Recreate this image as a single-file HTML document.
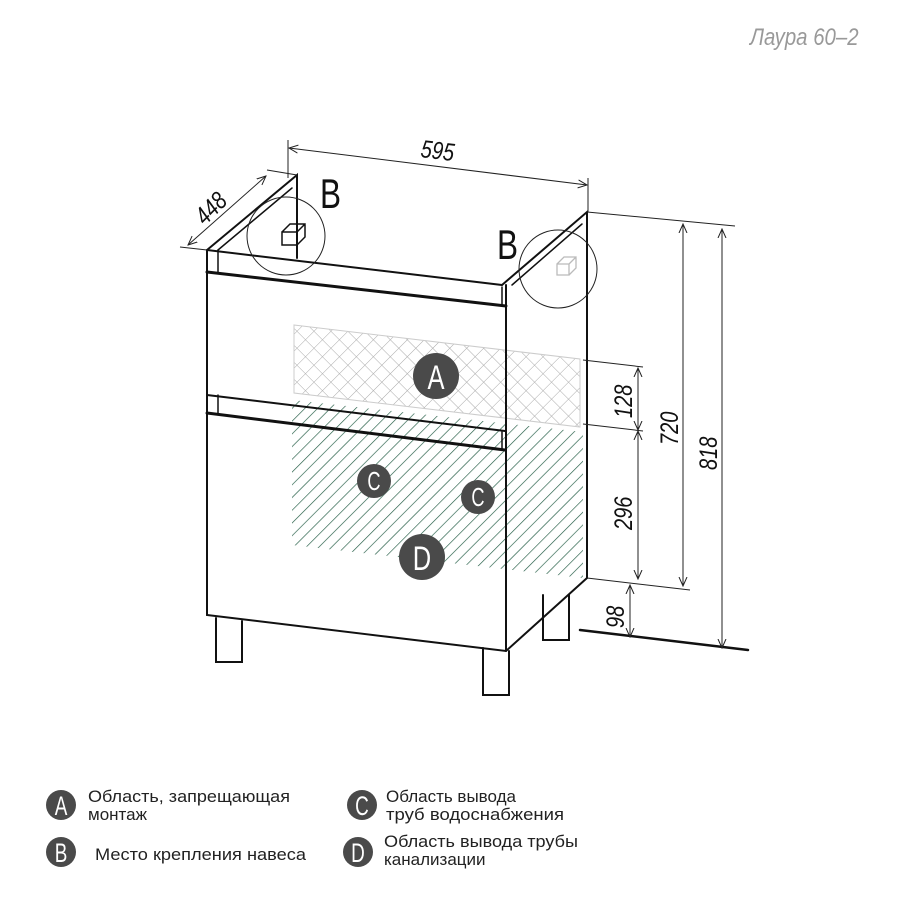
<!DOCTYPE html>
<html><head><meta charset="utf-8"><style>
body{margin:0;background:#fff;width:917px;height:917px;overflow:hidden}
svg{display:block}
.t{font-family:"Liberation Sans","DejaVu Sans",sans-serif}
</style></head><body>
<svg width="917" height="917" viewBox="0 0 917 917" xmlns="http://www.w3.org/2000/svg">
<defs>
<pattern id="cross" width="12" height="12" patternUnits="userSpaceOnUse" patternTransform="rotate(45)">
<path d="M0 0H12M0 0V12" stroke="#aaa" stroke-width="1" fill="none"/>
</pattern>
<pattern id="hatch" width="9" height="9" patternUnits="userSpaceOnUse" patternTransform="rotate(45)">
<path d="M0 0V9" stroke="#1f5a42" stroke-width="1.3"/>
</pattern>
<marker id="ar" markerWidth="10" markerHeight="10" refX="9" refY="5" orient="auto-start-reverse" markerUnits="userSpaceOnUse">
<path d="M0 1L9 5L0 9" fill="none" stroke="#222" stroke-width="1"/>
</marker>
</defs>
<text transform="translate(750,45) scale(0.85,1)" class="t" font-size="24" font-style="italic" fill="#999">Лаура 60–2</text>

<polygon points="294,325 580,359 580,427 294,393" fill="url(#cross)" stroke="#ccc"/>
<polygon points="292,400 583,432 583,578 292,545" fill="url(#hatch)"/>

<g stroke="#111" fill="none" stroke-linecap="round">
<path d="M207,250 L297,175 L297,258" stroke-width="2"/>
<path d="M218,250 L292,188" stroke-width="1.5"/>
<path d="M502,285 L587,212 L587,578" stroke-width="2"/>
<path d="M512,285 L582,224" stroke-width="1.5"/>
<path d="M207,250 L502,285" stroke-width="2"/>
<path d="M207,250 L207,615 L506,651 L587,578" stroke-width="2"/>
<path d="M506,285 L506,651" stroke-width="2"/>
<path d="M207,272 L506,306" stroke-width="3"/>
<path d="M218,250 V272 M502,287 V306" stroke-width="1.5"/>
<path d="M207,395 L505,431" stroke-width="2"/>
<path d="M207,413 L505,450" stroke-width="3"/>
<path d="M218,395 V413 M502,432 V450" stroke-width="1.5"/>
<path d="M216,618 V662 H242 V621" stroke-width="2"/>
<path d="M483,648 V695 H509 V651" stroke-width="2"/>
<path d="M543,595 V640 H569 V595" stroke-width="2"/>
<path d="M580,630 L748,650" stroke-width="2.5"/>
<path d="M282,232 h15 v13 h-15 z M282,232 l8,-8 h15 v13 l-8,8 M297,232 l8,-8" stroke-width="1.5"/>
<path d="M557,264 h12 v11 h-12 z M557,264 l7,-7 h12 v11 l-7,7 M569,264 l7,-7" stroke="#bbb" stroke-width="1.3"/>
</g>
<circle cx="286" cy="236" r="39" fill="none" stroke="#222" stroke-width="1"/>
<circle cx="558" cy="269" r="39" fill="none" stroke="#222" stroke-width="1"/>
<text transform="translate(320,208) scale(0.75,1)" class="t" font-size="42" fill="#111">B</text>
<text transform="translate(497,259) scale(0.75,1)" class="t" font-size="42" fill="#111">B</text>

<g stroke="#222" stroke-width="1" fill="none">
<path d="M288,140 V178 M588,178 V212"/>
<path d="M289,148 L587,185" marker-start="url(#ar)" marker-end="url(#ar)"/>
<path d="M180,247 L207,250 M267,170 L297,175"/>
<path d="M188,245 L266,176" marker-start="url(#ar)" marker-end="url(#ar)"/>
<path d="M587,212 L735,226 M583,360 L643,367 M583,424 L643,431 M587,578 L690,590"/>
<path d="M683,224 V586" marker-start="url(#ar)" marker-end="url(#ar)"/>
<path d="M722,229 V648" marker-start="url(#ar)" marker-end="url(#ar)"/>
<path d="M638,368 V430" marker-start="url(#ar)" marker-end="url(#ar)"/>
<path d="M638,431 V579" marker-start="url(#ar)" marker-end="url(#ar)"/>
<path d="M630,585 V637" marker-start="url(#ar)" marker-end="url(#ar)"/>
</g>
<g class="t" font-size="25" fill="#111" font-style="italic">
<text transform="translate(420,157) rotate(7) scale(0.8,1)">595</text>
<text transform="translate(205,226) rotate(-45) scale(0.8,1)">448</text>
<text transform="translate(632,418) rotate(-90) scale(0.8,1)">128</text>
<text transform="translate(632,530) rotate(-90) scale(0.8,1)">296</text>
<text transform="translate(678,445) rotate(-90) scale(0.8,1)">720</text>
<text transform="translate(717,470) rotate(-90) scale(0.8,1)">818</text>
<text transform="translate(624,628) rotate(-90) scale(0.8,1)">98</text>
</g>

<g class="t" fill="#fff" text-anchor="middle">
<circle cx="436" cy="376" r="23" fill="#4a4a4a"/><text transform="translate(436,389) scale(0.75,1)" font-size="34">A</text>
<circle cx="374" cy="481" r="17" fill="#4a4a4a"/><text transform="translate(374,490) scale(0.7,1)" font-size="26">C</text>
<circle cx="478" cy="497" r="17" fill="#4a4a4a"/><text transform="translate(478,506) scale(0.7,1)" font-size="26">C</text>
<circle cx="422" cy="557" r="23" fill="#4a4a4a"/><text transform="translate(422,570) scale(0.75,1)" font-size="34">D</text>
</g>

<g class="t" fill="#fff" text-anchor="middle">
<circle cx="61" cy="805" r="15" fill="#4a4a4a"/><text transform="translate(61,815) scale(0.7,1)" font-size="27">A</text>
<circle cx="61" cy="852" r="15" fill="#4a4a4a"/><text transform="translate(61,862) scale(0.7,1)" font-size="27">B</text>
<circle cx="362" cy="805" r="15" fill="#4a4a4a"/><text transform="translate(362,815) scale(0.7,1)" font-size="27">C</text>
<circle cx="358" cy="852" r="15" fill="#4a4a4a"/><text transform="translate(358,862) scale(0.7,1)" font-size="27">D</text>
</g>
<g class="t" fill="#222" font-size="17">
<text x="88" y="802" textLength="202" lengthAdjust="spacingAndGlyphs">Область, запрещающая</text>
<text x="88" y="820">монтаж</text>
<text x="95" y="860" textLength="211" lengthAdjust="spacingAndGlyphs">Место крепления навеса</text>
<text x="386" y="802">Область вывода</text>
<text x="386" y="820" textLength="178" lengthAdjust="spacingAndGlyphs">труб водоснабжения</text>
<text x="384" y="847" textLength="194" lengthAdjust="spacingAndGlyphs">Область вывода трубы</text>
<text x="384" y="865">канализации</text>
</g>
</svg>
</body></html>
